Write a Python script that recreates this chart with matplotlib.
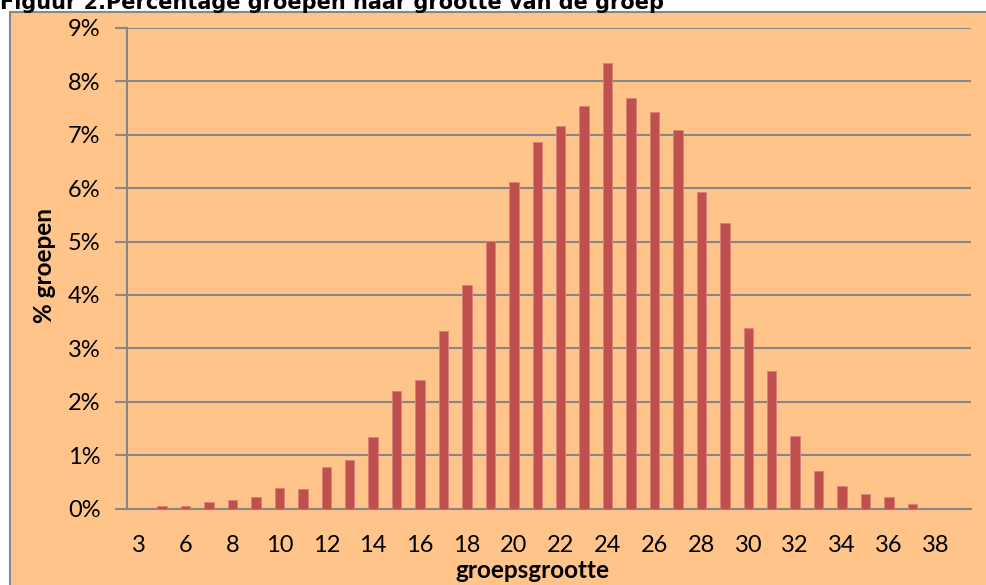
import matplotlib
matplotlib.use("Agg")
import matplotlib.pyplot as plt
from matplotlib.patches import Rectangle
import numpy as np

categories = [3, 5, 6, 7, 8, 9, 10, 11, 12, 13, 14, 15, 16, 17, 18, 19, 20, 21,
              22, 23, 24, 25, 26, 27, 28, 29, 30, 31, 32, 33, 34, 35, 36, 37, 38, 39]
percent = [0.00, 0.04, 0.04, 0.12, 0.165, 0.22, 0.38, 0.365, 0.78, 0.90, 1.34,
           2.20, 2.41, 3.32, 4.19, 5.01, 6.11, 6.86, 7.16, 7.54, 8.35, 7.69,
           7.43, 7.09, 5.92, 5.34, 3.39, 2.58, 1.36, 0.70, 0.42, 0.27, 0.22,
           0.08, 0.00, 0.00]
yticks = [0, 1, 2, 3, 4, 5, 6, 7, 8, 9]
title = "Figuur 2.Percentage groepen naar grootte van de groep"
xlabel = "groepsgrootte"
ylabel = "% groepen"

plt.rcParams['font.family'] = ['Lato', 'DejaVu Sans']

W, H = 986, 585
fig = plt.figure(figsize=(W / 100, H / 100), dpi=100)
fig.patch.set_facecolor("white")

bg = "#FFC48A"
grid = "#878787"

bgax = fig.add_axes([0, 0, 1, 1], zorder=-10)
bgax.set_xlim(0, W)
bgax.set_ylim(H, 0)
bgax.axis("off")
bgax.add_patch(Rectangle((10, 11.5), W + 10, H + 10, facecolor=bg,
                         edgecolor=grid, linewidth=1.5))

ax = fig.add_axes([127 / W, (H - 508.5) / H, (971 - 127) / W, (508.5 - 28) / H])
ax.set_facecolor("none")

x = np.arange(len(categories))
ax.bar(x, percent, width=0.4, color="#C0504D", edgecolor="#D9807C",
       linewidth=0.6, zorder=3)

ax.set_xlim(-0.5, len(categories) - 0.5)
ax.set_ylim(0, 9)
ax.set_yticks(yticks)
ax.set_yticklabels([f"{v}%" for v in yticks], fontsize=17)
ax.set_xticks(x[::2])
ax.set_xticklabels([str(c) for c in categories[::2]], fontsize=17)
ax.tick_params(axis="x", length=0, pad=19)
ax.tick_params(axis="y", length=9, width=1.5, color=grid, pad=10)

ax.yaxis.grid(True, color=grid, linewidth=1.5, zorder=0)
ax.set_axisbelow(True)
for s in ["top", "right"]:
    ax.spines[s].set_visible(False)
ax.spines["left"].set_color(grid)
ax.spines["left"].set_linewidth(1.5)
ax.spines["bottom"].set_color(grid)
ax.spines["bottom"].set_linewidth(1.5)

fig.text(532.7 / W, 1 - 570 / H, xlabel, ha="center", va="center",
         fontsize=17.5, fontweight="bold")
fig.text(45 / W, 1 - 266 / H, ylabel, ha="center", va="center",
         rotation=90, fontsize=17.5, fontweight="bold")
fig.text(0.0, 1 - 9 / H, title, ha="left", va="baseline",
         fontsize=15, fontweight="bold", family="DejaVu Sans")

fig.savefig("out.png", dpi=100)
